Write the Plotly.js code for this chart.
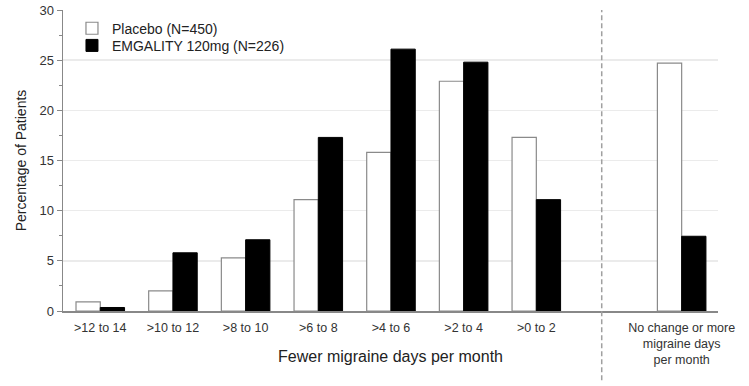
<!DOCTYPE html>
<html>
<head>
<meta charset="utf-8">
<script src="https://cdn.plot.ly/plotly-3.0.1.min.js"></script>
<style>html,body{margin:0;padding:0;background:#fff;}#chart{width:749px;height:386px;}</style>
</head>
<body>
<div id="chart"></div>
<script>
var categories = [">12 to 14", ">10 to 12", ">8 to 10", ">6 to 8", ">4 to 6", ">2 to 4", ">0 to 2", "No change or more<br>migraine days<br>per month"];
var axisOrder = [">12 to 14", ">10 to 12", ">8 to 10", ">6 to 8", ">4 to 6", ">2 to 4", ">0 to 2", " ", "No change or more<br>migraine days<br>per month"];
var placebo = [0.9, 2.0, 5.3, 11.1, 15.8, 22.9, 17.3, 24.7];
var emgality = [0.35, 5.8, 7.1, 17.3, 26.1, 24.8, 11.1, 7.45];
var seriesNames = ["Placebo (N=450)", "EMGALITY 120mg (N=226)"];
var xTitle = "Fewer migraine days per month";
var yTitle = "Percentage of Patients";

var font = "Liberation Sans, Arial, sans-serif";
var traces = [
  {type: "bar", name: seriesNames[0], x: categories, y: placebo, legend: "legend",
   marker: {color: "#ffffff", line: {color: "#8a8a8a", width: 1.2}}},
  {type: "bar", name: seriesNames[1], x: categories, y: emgality, legend: "legend2",
   marker: {color: "#000000", line: {color: "#000000", width: 1}}}
];
var legendBase = {xanchor: "left", yanchor: "middle", bgcolor: "rgba(0,0,0,0)",
                  font: {family: font, size: 14, color: "#222"}};
var layout = {
  width: 749, height: 386,
  margin: {l: 63, r: 31, t: 10, b: 75},
  paper_bgcolor: "#fff", plot_bgcolor: "#fff",
  font: {family: font, color: "#333", size: 12},
  barmode: "group", bargap: 0.332, bargroupgap: 0,
  showlegend: true,
  legend: Object.assign({x: 0.0137, y: 0.938}, legendBase),
  legend2: Object.assign({x: 0.0137, y: 0.881}, legendBase),
  xaxis: {type: "category", categoryorder: "array", categoryarray: axisOrder,
          range: [-0.513, 8.5], showgrid: false, showline: true, linecolor: "#888", linewidth: 1.5,
          ticks: "outside", ticklen: 4, tickcolor: "rgba(0,0,0,0)",
          tickfont: {family: font, size: 12.5, color: "#333"}, zeroline: false},
  yaxis: {range: [0, 30], dtick: 5, tick0: 0, showline: true, linecolor: "#888", linewidth: 1.5,
          ticks: "outside", ticklen: 5, tickcolor: "#888", tickwidth: 1,
          minor: {dtick: 2.5, ticks: "outside", ticklen: 3, tickcolor: "#888", showgrid: false},
          showgrid: true, gridcolor: "#ebebeb", gridwidth: 1.5, zeroline: false,
          tickfont: {family: font, size: 13, color: "#333"},
          title: {text: yTitle, font: {family: font, size: 14, color: "#222"}, standoff: 9}},
  annotations: [{text: xTitle, xref: "paper", yref: "paper", x: 0.5, y: -0.151,
                 xanchor: "center", yanchor: "middle", showarrow: false,
                 font: {family: font, size: 16, color: "#222"}}],
  shapes: [{type: "line", xref: "x", yref: "paper", x0: 6.9, x1: 6.9, y0: -0.23, y1: 1,
            line: {color: "#a0a0a0", width: 1.5, dash: "5px,3px"}}]
};
Plotly.newPlot("chart", traces, layout, {staticPlot: true, displayModeBar: false});
</script>
</body>
</html>
